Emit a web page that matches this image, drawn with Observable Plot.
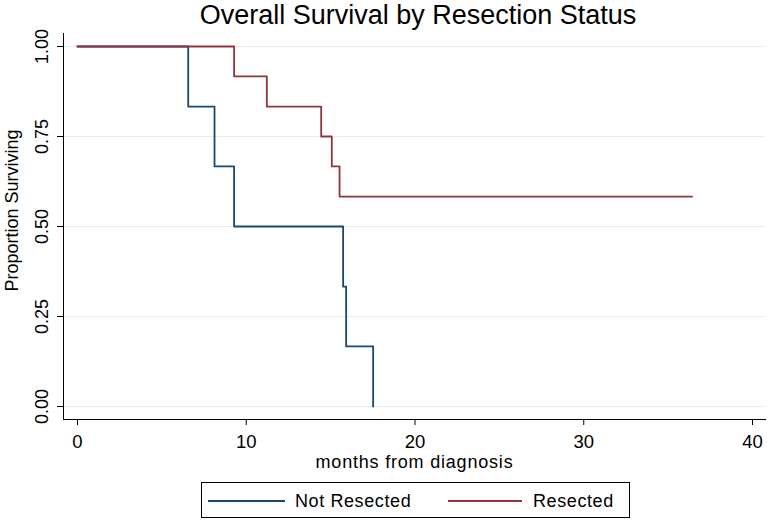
<!DOCTYPE html>
<html><head><meta charset="utf-8">
<script src="https://cdn.jsdelivr.net/npm/d3@7"></script>
<script src="https://cdn.jsdelivr.net/npm/@observablehq/plot@0.6"></script>
<style>
html,body{margin:0;padding:0;background:#fff;}
body{width:769px;height:522px;position:relative;overflow:hidden;font-family:"Liberation Sans",Arial,sans-serif;color:#000;}
#title{position:absolute;left:68px;top:0;width:700px;text-align:center;font-size:27px;line-height:31px;}
#chart{position:absolute;left:0;top:30px;}
#legend{position:absolute;left:201px;top:482px;width:427px;height:34px;border:1px solid #000;background:#fff;}
#legend .sw{position:absolute;height:2px;top:17px;}
#legend .lb{position:absolute;top:9px;font-size:18px;line-height:18px;letter-spacing:0.6px;white-space:nowrap;}
.xlab{letter-spacing:0.8px;}
</style>
</head><body>
<div id="title"></div>
<div id="chart"></div>
<div id="legend"></div>
<script>
const titleText = "Overall Survival by Resection Status";
const xLabel = "months from diagnosis";
const yLabel = "Proportion Surviving";
const groups = ["Not Resected", "Resected"];
const colors = ["#1a476f", "#90353b"];
const xTicks = [0, 10, 20, 30, 40];
const yTicks = [0, 0.25, 0.5, 0.75, 1];

// Kaplan-Meier step points (time in months, survival proportion)
const notResectedT = [0, 6.56, 8.12, 9.28, 15.74, 15.92, 17.52];
const notResectedS = [1, 0.833, 0.667, 0.5, 0.333, 0.167, 0];
const resectedT = [0, 9.28, 11.22, 14.44, 15.07, 15.53, 36.42];
const resectedS = [1, 0.917, 0.833, 0.75, 0.667, 0.583, 0.583];

const data = [
  ...notResectedT.map((t, i) => ({group: groups[0], t, s: notResectedS[i]})),
  ...resectedT.map((t, i) => ({group: groups[1], t, s: resectedS[i]}))
];

document.getElementById("title").textContent = titleText;

const chart = Plot.plot({
  width: 769, height: 445,
  marginLeft: 63, marginRight: 4, marginTop: 3, marginBottom: 56,
  x: {domain: [0, 40], range: [77, 752]},
  y: {domain: [0, 1], range: [376, 16]},
  color: {domain: groups, range: colors},
  style: {fontFamily: '"Liberation Sans", Arial, sans-serif', background: "#fff", color: "#000", overflow: "visible"},
  marks: [
    Plot.gridY(yTicks, {stroke: "#e3ecef", strokeOpacity: 1}),
    Plot.frame({anchor: "left", stroke: "#000"}),
    Plot.frame({anchor: "bottom", stroke: "#000"}),
    Plot.axisX(xTicks, {tickSize: 6, tickPadding: 9, fontSize: 18.5, label: null}),
    Plot.axisY(yTicks, {tickSize: 6, tickPadding: 10, tickRotate: -90, tickFormat: d => d.toFixed(2), fontSize: 18, label: null}),
    Plot.line(data, {x: "t", y: "s", z: "group", stroke: "group", curve: "step-after", strokeWidth: 1.8}),
    Plot.text([yLabel], {frameAnchor: "left", rotate: -90, dx: -46, dy: -16, lineAnchor: "bottom", textAnchor: "middle", fontSize: 18}),
    Plot.text([xLabel], {frameAnchor: "bottom", dy: 48, lineAnchor: "bottom", textAnchor: "middle", fontSize: 18, className: "xlab"})
  ]
});
document.getElementById("chart").appendChild(chart);

// legend
const legend = document.getElementById("legend");
const swLeft = [6, 246];
const swWidth = [77, 74];
const lbLeft = [93, 331];
groups.forEach((g, i) => {
  const sw = document.createElement("div");
  sw.className = "sw";
  sw.style.left = swLeft[i] + "px";
  sw.style.width = swWidth[i] + "px";
  sw.style.background = colors[i];
  legend.appendChild(sw);
  const lb = document.createElement("div");
  lb.className = "lb";
  lb.style.left = lbLeft[i] + "px";
  lb.textContent = g;
  legend.appendChild(lb);
});
</script>
</body></html>
